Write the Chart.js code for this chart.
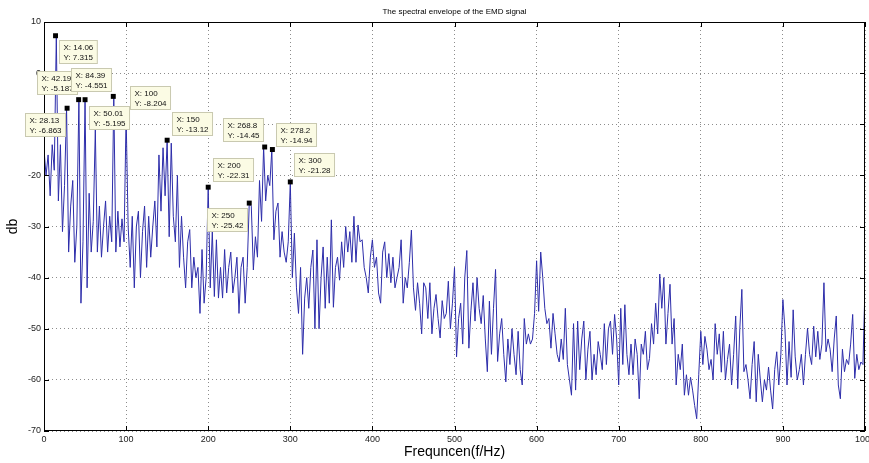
<!DOCTYPE html>
<html>
<head>
<meta charset="utf-8">
<title>The spectral envelope of the EMD signal</title>
<script src="https://cdn.jsdelivr.net/npm/chart.js@4.4.1/dist/chart.umd.min.js"></script>
<style>
  html, body { margin: 0; padding: 0; background: #fff; }
  #wrap { width: 869px; height: 463px; }
</style>
</head>
<body>
<div id="wrap"><canvas id="specChart" width="869" height="463"></canvas></div>
<script>
const freqStep = 2.5;
const db0to100 = [-15, -20, -16, -24, -14, -19, 7.3, -25, -14, -31, -22, -6.9, -35, -26, -21, -37, -30, -5.2, -45, -33,
  -5.2, -42, -23.5, -35, -29, -11, -35, -26, -36, -30, -25, -35, -28, -33, -4.6, -35, -27, -34, -28.5, -33];
const db100to200 = [-8.2, -30, -38, -28, -42, -30, -27, -40, -31, -26, -38, -28, -36, -30, -25, -34, -16, -27, -14.6, -24,
  -13.1, -32, -13.7, -28, -33, -20, -38, -28, -36, -42, -33, -30.6, -42, -36, -40, -38, -47, -34.5, -45, -40];
const db200to300 = [-22.3, -42, -31, -43.7, -32.6, -44, -38, -44, -34.5, -43, -38, -35, -43, -40, -36, -47, -38, -36, -45, -38,
  -25.4, -26, -38.5, -32, -36, -21, -29, -14.45, -25, -20, -22, -14.94, -32.6, -27, -25.4, -36, -31, -35, -37, -33];
const db300to400 = [-21.3, -40, -31.3, -42, -47, -38, -55, -44, -40, -46, -38, -34.6, -50, -32.6, -50, -40, -34, -46, -36, -45,
  -28.7, -45.8, -38, -36, -40.5, -33, -38, -30, -35, -31, -37, -28, -37, -29.7, -33, -32.6, -38, -40, -43, -36];
const db400to500 = [-32.6, -38, -36, -43, -45, -35, -33, -40, -35.3, -41, -36, -42, -40, -38, -32.6, -45, -40, -42, -37, -30.7,
  -42, -46.4, -41, -45, -51, -41, -42, -48, -41, -51, -46, -43.3, -48, -51.8, -44.5, -48, -47, -40.7, -50, -45];
const db500to600 = [-38, -55.5, -48, -45, -53, -40, -34.7, -53.8, -46.5, -41, -48.5, -40, -46, -49, -43.5, -52, -58.4, -44.6, -55, -46,
  -38.4, -56.4, -51, -48, -55, -60.4, -52, -57, -50, -55, -59, -50.5, -58, -61, -48, -53, -51, -53, -52, -47];
const db600to700 = [-36.7, -46.6, -35, -40, -46, -49, -48, -53.8, -47, -51, -55, -56.5, -52, -56, -46, -57, -60, -63, -49, -62,
  -48.5, -58, -52, -48.5, -60, -54, -50.5, -60, -55, -59, -52.5, -55, -58, -49, -57, -50, -48.5, -55, -47.2, -52];
const db700to800 = [-61, -46, -57, -45.3, -55, -59, -53, -59, -52, -55, -63.7, -53, -55, -50.5, -58, -55.8, -49, -53, -45, -51,
  -39.3, -46, -40, -53, -47, -41.3, -53, -48, -61, -55, -58, -53, -63, -59, -63, -59.5, -62, -65, -67.6, -59];
const db800to900 = [-50.5, -57, -51.5, -54, -58, -56, -60, -49, -55, -51, -58.5, -50.5, -60, -56, -53, -61, -55, -47.5, -61.7, -50,
  -42.3, -58.4, -57, -60, -63.7, -57, -52.5, -64.3, -55, -60, -64.3, -60, -62, -57.5, -62, -65.7, -58, -54.5, -61, -55];
const db900to1000 = [-44.3, -50, -61, -52.5, -59.5, -46.3, -55.5, -60, -58, -55, -61, -55, -49.9, -55, -57, -49.5, -55.5, -50.5, -56, -53,
  -41, -54.5, -52, -54, -58.4, -52, -47.5, -61, -63.7, -54, -58.4, -56, -57, -53, -47.2, -59.7, -55, -58, -56.5, -57, -41.5];

// data tips
const tipFreqs = [14.06, 28.13, 42.19, 50.01, 84.39, 100, 150, 200, 250, 268.8, 278.2, 300];
const tipDb = [7.315, -6.863, -5.187, -5.195, -4.551, -8.204, -13.12, -22.31, -25.42, -14.45, -14.94, -21.28];
const tipText = ['7.315', '-6.863', '-5.187', '-5.195', '-4.551', '-8.204', '-13.12', '-22.31', '-25.42', '-14.45', '-14.94', '-21.28'];
// where each tip box sits relative to its marker (px)
const tipOffsets = [[3, 4], [-42, 5], [-42, -29], [4, 6], [-42, -28], [4, -29], [5, -28], [5, -29], [-42, 5], [-42, -29], [4, -27], [4, -29]];

const xTicks = [0, 100, 200, 300, 400, 500, 600, 700, 800, 900, 1000];
const yTicks = [10, 0, -10, -20, -30, -40, -50, -60, -70];

const dbAll = [].concat(db0to100, db100to200, db200to300, db300to400, db400to500,
  db500to600, db600to700, db700to800, db800to900, db900to1000);
const spectrum = dbAll.map((v, i) => ({ x: i * freqStep, y: v }));
const tips = tipFreqs.map((f, i) => ({ x: f, y: tipDb[i] }));

const narrow = "'Liberation Sans Narrow', 'Liberation Sans', Arial, sans-serif";
const plain = "'Liberation Sans', Arial, sans-serif";

// matlab-ish frame, inward ticks, title and data tip boxes
const matlabLook = {
  id: 'matlabLook',
  afterDraw(chart) {
    const { ctx, chartArea: a, scales } = chart;
    ctx.save();
    ctx.strokeStyle = '#000';
    ctx.lineWidth = 1;
    ctx.strokeRect(a.left + 0.5, a.top + 0.5, a.right - a.left - 1, a.bottom - a.top - 1);
    ctx.beginPath();
    xTicks.forEach(v => {
      const px = Math.round(scales.x.getPixelForValue(v)) + 0.5;
      ctx.moveTo(px, a.bottom); ctx.lineTo(px, a.bottom - 5);
      ctx.moveTo(px, a.top); ctx.lineTo(px, a.top + 5);
    });
    yTicks.forEach(v => {
      const py = Math.round(scales.y.getPixelForValue(v)) + 0.5;
      ctx.moveTo(a.left, py); ctx.lineTo(a.left + 5, py);
      ctx.moveTo(a.right, py); ctx.lineTo(a.right - 5, py);
    });
    ctx.stroke();

    ctx.fillStyle = '#000';
    ctx.font = '8px ' + plain;
    ctx.textAlign = 'center';
    ctx.textBaseline = 'middle';
    ctx.fillText('The spectral envelope of the EMD signal', (a.left + a.right) / 2, 12);

    // data tips
    ctx.font = '8px ' + narrow;
    ctx.textAlign = 'left';
    tipFreqs.forEach((f, i) => {
      const mx = scales.x.getPixelForValue(f);
      const my = scales.y.getPixelForValue(tipDb[i]);
      const l1 = 'X: ' + f, l2 = 'Y: ' + tipText[i];
      const w = Math.max(ctx.measureText(l1).width, ctx.measureText(l2).width) + 8;
      const bx = Math.round(mx + tipOffsets[i][0]) + 0.5;
      const by = Math.round(my + tipOffsets[i][1]) + 0.5;
      ctx.fillStyle = '#fbfbe4';
      ctx.strokeStyle = '#c9c9b0';
      ctx.fillRect(bx, by, w, 23);
      ctx.strokeRect(bx, by, w, 23);
      ctx.fillStyle = '#111';
      ctx.fillText(l1, bx + 4, by + 7);
      ctx.fillText(l2, bx + 4, by + 17);
    });
    ctx.restore();
  }
};

const ctx = document.getElementById('specChart').getContext('2d');
const specChart = new Chart(ctx, {
  type: 'line',
  data: {
    datasets: [{
      label: 'tips',
      type: 'scatter',
      data: tips,
      pointStyle: 'rect',
      pointRadius: 3.5,
      backgroundColor: '#000',
      borderColor: '#000',
      borderWidth: 0,
      order: 0
    }, {
      label: 'spectrum',
      data: spectrum,
      borderColor: 'rgb(45, 45, 170)',
      borderWidth: 1,
      pointRadius: 0,
      tension: 0,
      order: 1
    }]
  },
  options: {
    responsive: false,
    animation: false,
    events: [],
    layout: { padding: { top: 22, right: 3, left: 0, bottom: 0 } },
    plugins: { legend: { display: false }, tooltip: { enabled: false } },
    scales: {
      x: {
        type: 'linear',
        min: 0,
        max: 1000,
        afterBuildTicks: s => { s.ticks = xTicks.map(v => ({ value: v })); },
        afterFit: s => { s.height = 32; s.paddingLeft = 0; s.paddingRight = 0; },
        grid: { color: 'rgba(0,0,0,0.45)', drawTicks: false },
        border: { display: false, dash: [1, 3] },
        ticks: { padding: 3, color: '#222', maxRotation: 0, autoSkip: false, font: { family: narrow, size: 9 },
          callback: v => String(v) },
        title: { display: true, text: 'Frequncen(f/Hz)', color: '#000', font: { family: plain, size: 14 }, padding: { top: 0, bottom: 2 } }
      },
      y: {
        min: -70,
        max: 10,
        afterBuildTicks: s => { s.ticks = yTicks.map(v => ({ value: v })); },
        afterFit: s => { s.width = 44; s.paddingTop = 0; s.paddingBottom = 0; },
        grid: { color: 'rgba(0,0,0,0.45)', drawTicks: false },
        border: { display: false, dash: [1, 3] },
        ticks: { padding: 3, color: '#222', font: { family: narrow, size: 9 }, callback: v => String(v) },
        title: { display: true, text: 'db', color: '#000', font: { family: plain, size: 14 }, padding: { top: 5, bottom: 0 } }
      }
    }
  },
  plugins: [matlabLook]
});
</script>
</body>
</html>
